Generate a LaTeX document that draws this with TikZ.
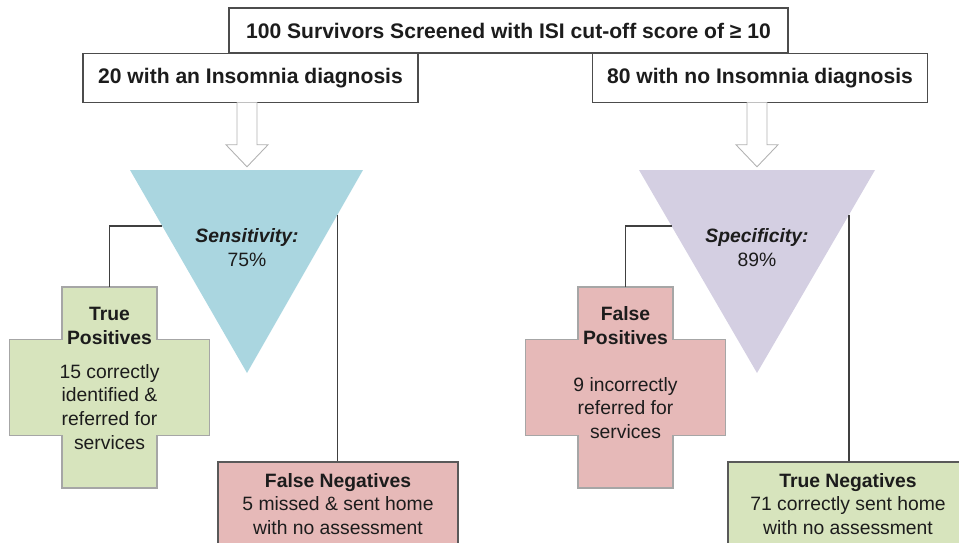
\documentclass[tikz,border=0pt]{standalone}
\usepackage{fontspec}
\setmainfont{Liberation Sans}
\usetikzlibrary{positioning, calc}

\definecolor{sensblue}{RGB}{170,214,224}
\definecolor{speclilac}{RGB}{212,207,226}
\definecolor{hitgreen}{RGB}{215,228,189}
\definecolor{misspink}{RGB}{230,185,184}
\definecolor{textgray}{RGB}{28,28,28}

\tikzset{
  pics/plusbox/.style={code={
    \draw[fill=#1, draw=black!35, line width=0.6pt]
      (-47.5,-100.5) -- (47.5,-100.5) -- (47.5,-48) -- (100,-48) -- (100,48)
      -- (47.5,48) -- (47.5,100.5) -- (-47.5,100.5) -- (-47.5,48) -- (-100,48)
      -- (-100,-48) -- (-47.5,-48) -- cycle;
  }}
}

\begin{document}
\begin{tikzpicture}[x=0.02cm, y=-0.02cm, text=textgray,
    font=\fontsize{11}{13.6}\selectfont,
    headbox/.style={draw=black!70, line width=0.9pt, fill=white, inner sep=0pt,
      font=\fontsize{12}{14}\selectfont\bfseries},
    resultbox/.style={draw=black!65, line width=0.8pt, inner sep=0pt, align=center,
      minimum width=4.8cm, minimum height=1.68cm},
    crosshead/.style={align=center, font=\fontsize{11}{13.6}\selectfont\bfseries},
    crossbody/.style={align=center},
    link/.style={draw=black!75, line width=0.7pt},
    hollow/.style={fill=white, draw=black!30, line width=0.5pt}]
  \useasboundingbox (0,0) rectangle (959,542);

  % screening boxes
  \node[headbox, minimum width=11.18cm, minimum height=0.9cm] (screen) at (508.5,30.5)
    {100 Survivors Screened with ISI cut-off score of ≥ 10};
  \node[headbox, minimum width=6.7cm, minimum height=0.98cm] (ins) at (250.5,78)
    {20 with an Insomnia diagnosis};
  \node[headbox, minimum width=6.7cm, minimum height=0.98cm] (noins) at (760,78)
    {80 with no Insomnia diagnosis};

  % hollow arrows
  \filldraw[hollow] ($(ins.south)+(-13.5,-1)$) -- ++(0,42.5) -- ++(-11,0)
    -- ++(21,22) -- ++(21,-22) -- ++(-11,0) -- ++(0,-42.5);
  \filldraw[hollow] ($(noins.south)+(-13,-1)$) -- ++(0,42.5) -- ++(-11,0)
    -- ++(21,22) -- ++(21,-22) -- ++(-11,0) -- ++(0,-42.5);

  % sensitivity
  \coordinate (s1) at (130,170);
  \coordinate (s2) at (363,170);
  \coordinate (s3) at (247,373);
  \fill[sensblue] (s1) -- (s2) -- (s3) -- cycle;
  \node[align=center] (sens) at (247,248) {\textbf{\textit{Sensitivity:}}\\75\%};

  % specificity
  \coordinate (p1) at (639,170);
  \coordinate (p2) at (875,170);
  \coordinate (p3) at (757,373);
  \fill[speclilac] (p1) -- (p2) -- (p3) -- cycle;
  \node[align=center] (spec) at (757,248) {\textbf{\textit{Specificity:}}\\89\%};

  % crosses
  \pic at (109.5,387.5) {plusbox=hitgreen};
  \coordinate (tptop) at (109.5,287);
  \node[crosshead] (tphead) at (109.5,326) {True\\Positives};
  \node[crossbody] (tpbody) at (109.5,407) {15 correctly\\identified \&\\referred for\\services};

  \pic at (625.5,387.5) {plusbox=misspink};
  \coordinate (fptop) at (625.5,287);
  \node[crosshead] (fphead) at (625.5,326) {False\\Positives};
  \node[crossbody] (fpbody) at (625.5,408) {9 incorrectly\\referred for\\services};

  % result boxes
  \node[resultbox, fill=misspink] (fn) at (338,504)
    {\textbf{False Negatives}\\5 missed \& sent home\\with no assessment};
  \node[resultbox, fill=hitgreen] (tn) at (848,504)
    {\textbf{True Negatives}\\71 correctly sent home\\with no assessment};

  % connectors
  \coordinate (sensL) at ($(s1)!0.276!(s3)$);
  \coordinate (sensR) at ($(s2)!0.22!(s3)$);
  \coordinate (specL) at ($(p1)!0.276!(p3)$);
  \coordinate (specR) at ($(p2)!0.22!(p3)$);
  \draw[link] (sensL) -| (tptop);
  \draw[link] (sensR) -- (sensR |- fn.north);
  \draw[link] (specL) -| (fptop);
  \draw[link] (specR) -- (specR |- tn.north);
\end{tikzpicture}
\end{document}
